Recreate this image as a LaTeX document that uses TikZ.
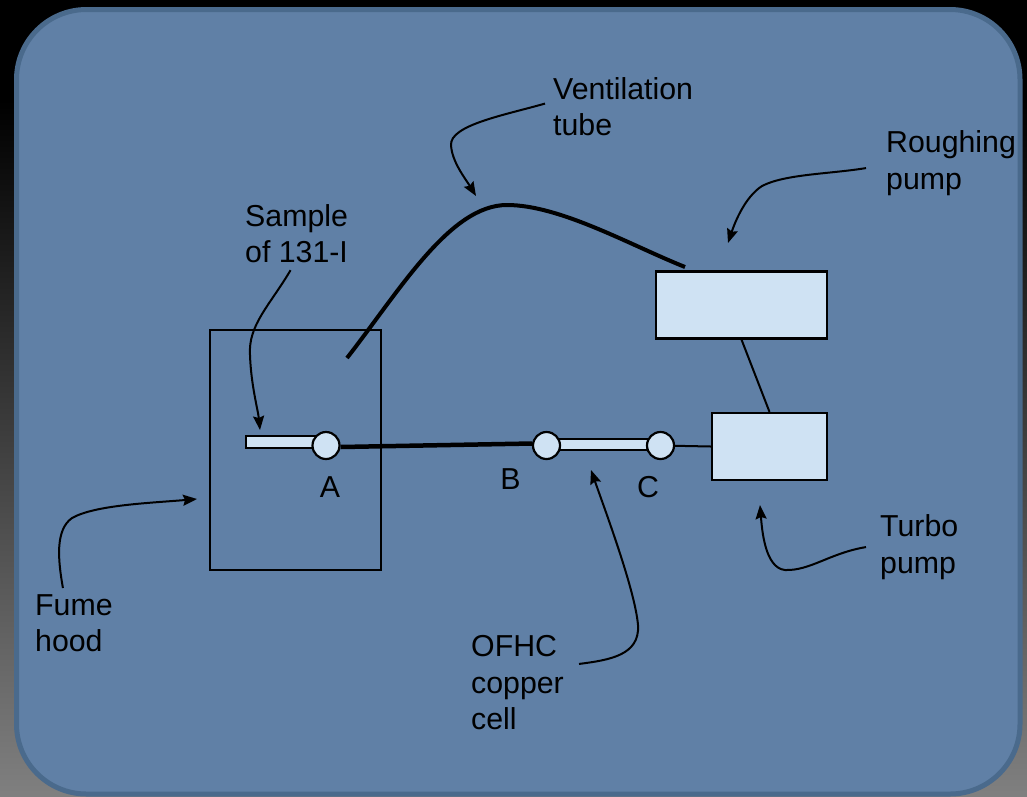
\documentclass[tikz,border=0pt]{standalone}
\usepackage{fontspec}
\setmainfont{Liberation Sans}
\usetikzlibrary{arrows.meta}
\definecolor{panelfill}{HTML}{6080A6}
\definecolor{paneledge}{HTML}{4A6A8C}
\definecolor{partfill}{HTML}{CFE2F3}
\tikzset{
  part/.style={draw=black, line width=2.2pt, fill=partfill, inner sep=0pt},
  valve/.style={part, circle, minimum size=27pt},
  pump/.style={part, rectangle},
  tube/.style={part, rectangle},
  pointer/.style={draw=black, line width=2pt, -{Stealth[length=14pt,width=11pt,inset=2pt]}},
  note/.style={anchor=north west, align=left, inner sep=0pt, font=\fontsize{30.3}{36.5}\selectfont},
  letter/.style={inner sep=0pt, font=\fontsize{30.3}{36.5}\selectfont}
}
\begin{document}
\begin{tikzpicture}[x=1pt, y=-1pt]
\useasboundingbox (0,0) rectangle (1027,796);
\fill[black] (0,0) rectangle (1027,101);
\shade[top color=black, bottom color=black!50] (0,100) rectangle (1027,796);
\draw[paneledge, line width=5pt, fill=panelfill, rounded corners=70pt]
  (16.5,9.5) rectangle (1020,794);
% fume hood
\node[draw=black, line width=2.2pt, minimum width=171pt, minimum height=240pt, inner sep=0pt] (hood) at (295.5,450) {};
% pumps
\node[pump, minimum width=171pt, minimum height=67pt] (rough) at (741.5,305) {};
\node[pump, minimum width=115pt, minimum height=67pt] (turbo) at (769.5,446.5) {};
\draw[line width=2pt] (rough.south) -- (turbo.north);
% tubes and valves
\node[tube, minimum width=70pt, minimum height=12pt] (sample) at (281,442) {};
\node[tube, minimum width=100pt, minimum height=11pt] (cell) at (603,444.5) {};
\node[valve] (valveA) at (326,445.5) {};
\node[valve] (valveB) at (546.5,445.5) {};
\node[valve] (valveC) at (660.5,445.5) {};
\draw[line width=4.5pt] ([yshift=-1.5pt]valveA.east) -- ([yshift=2pt]valveB.west);
\draw[line width=2pt] (valveC) -- (turbo.west);
% ventilation
\coordinate (ventin) at (347,358);
\coordinate (ventout) at (685,267);
\draw[line width=4pt] (ventin) .. controls (400,290) and (450,205) .. (507,205)
  .. controls (560,205) and (630,245) .. (ventout);
% labels
\node[letter] (labelA) at (330,487.5) {A};
\node[letter] (labelB) at (510.5,479.5) {B};
\node[letter] (labelC) at (648,487.5) {C};
\node[note] (ventlabel) at (553,77) {Ventilation\\tube};
\node[note] (roughlabel) at (886,130.5) {Roughing\\pump};
\node[note] (samplelabel) at (245,204) {Sample\\of 131-I};
\node[note] (fumelabel) at (35,594) {Fume\\hood};
\node[note] (turbolabel) at (880,514.5) {Turbo\\pump};
\node[note] (ofhclabel) at (471,635.5) {OFHC\\copper\\cell};
% pointers
\coordinate (venttip) at (476,196);
\coordinate (roughtip) at (728,243);
\coordinate (sampletip) at (260,430);
\coordinate (fumetip) at (197,499);
\coordinate (turbotip) at (760,505);
\coordinate (ofhctip) at (591,470);
\draw[pointer] ([xshift=-8pt,yshift=3pt]ventlabel.west) .. controls (505,115) and (450,125) .. (451,145)
  .. controls (452,162) and (465,178) .. (venttip);
\draw[pointer] ([xshift=-20pt,yshift=-5pt]roughlabel.west) .. controls (830,174) and (785,174) .. (762,186)
  .. controls (745,197) and (735,222) .. (roughtip);
\draw[pointer] ([xshift=-6pt,yshift=-7pt]samplelabel.south) .. controls (270,305) and (248,325) .. (250,355)
  .. controls (251,385) and (258,410) .. (sampletip);
\draw[pointer] ([xshift=-11pt,yshift=6pt]fumelabel.north) .. controls (58,560) and (55,530) .. (72,518)
  .. controls (95,505) and (150,503) .. (fumetip);
\draw[pointer] ([xshift=-14pt]turbolabel.west) .. controls (830,553) and (810,571) .. (785,570)
  .. controls (765,568) and (762,530) .. (turbotip);
\draw[pointer] ([xshift=15pt,yshift=19pt]ofhclabel.east) .. controls (610,660) and (640,655) .. (638,625)
  .. controls (635,590) and (605,510) .. (ofhctip);
\end{tikzpicture}
\end{document}
